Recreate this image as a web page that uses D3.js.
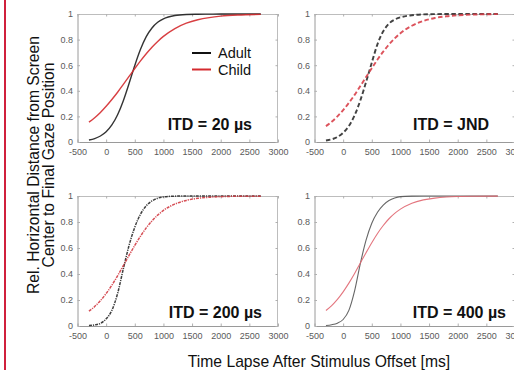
<!DOCTYPE html>
<html><head><meta charset="utf-8">
<script src="https://cdn.jsdelivr.net/npm/d3@7"></script>
<style>body{margin:0;background:#fff} svg{display:block;font-family:"Liberation Sans",Arial,sans-serif}</style>
</head><body>
<svg id="c" width="514" height="370"></svg>
<script>
// ---- data ----
const timeMs = [-300,-200,-100,0,100,200,300,400,500,600,700,800,900,1000,1200,1400,1600,1800,2000,2300,2700];
const adult20  = [0.016,0.027,0.047,0.080,0.133,0.213,0.323,0.457,0.598,0.724,0.823,0.891,0.935,0.962,0.988,0.996,0.998,0.999,1.0,1.0,1.0];
const child20  = [0.155,0.190,0.231,0.279,0.332,0.389,0.450,0.512,0.574,0.634,0.690,0.741,0.786,0.825,0.886,0.928,0.955,0.972,0.983,0.992,0.997];
const adultJND = [0.012,0.021,0.039,0.072,0.125,0.208,0.325,0.468,0.620,0.765,0.865,0.925,0.956,0.974,0.990,0.997,0.999,1.0,1.0,1.0,1.0];
const childJND = [0.124,0.158,0.200,0.249,0.306,0.368,0.437,0.507,0.577,0.644,0.706,0.762,0.809,0.850,0.908,0.946,0.969,0.982,0.990,0.996,0.999];
const adult200 = [0.003,0.008,0.020,0.055,0.120,0.250,0.440,0.620,0.760,0.860,0.925,0.962,0.983,0.993,0.999,1.0,1.0,1.0,1.0,1.0,1.0];
const child200 = [0.114,0.150,0.195,0.250,0.314,0.386,0.464,0.543,0.620,0.691,0.755,0.808,0.853,0.889,0.938,0.966,0.982,0.990,0.995,0.998,0.999];
const adult400 = [0.004,0.010,0.022,0.050,0.120,0.270,0.480,0.660,0.790,0.875,0.930,0.965,0.985,0.995,0.999,1.0,1.0,1.0,1.0,1.0,1.0];
const child400 = [0.119,0.157,0.205,0.263,0.330,0.404,0.484,0.564,0.641,0.712,0.773,0.825,0.866,0.899,0.945,0.970,0.984,0.992,0.996,0.998,0.999];
const xTicks = [-500,0,500,1000,1500,2000,2500,3000];
const yTicks = [0,0.2,0.4,0.6,0.8,1];
const panelLabels = ["ITD = 20 µs","ITD = JND","ITD = 200 µs","ITD = 400 µs"];
const seriesNames = ["Adult","Child"];
const xTitle = "Time Lapse After Stimulus Offset [ms]";
const yTitle = ["Rel. Horizontal Distance from Screen","Center to Final Gaze Position"];

// ---- layout / style ----
const svg = d3.select("#c");
svg.append("rect").attr("x",4).attr("y",0).attr("width",2).attr("height",370).attr("fill","#d0203c");

const panels = [
  {adult:adult20, child:child20, left:77.5, right:278, top:14, bottom:142, dash:null, w:1.4, ac:"#1e1e1e", cc:"#d42a2e", label:panelLabels[0], lx:252, ly:130},
  {adult:adultJND, child:childJND, left:314.5, right:515, top:14, bottom:142, dash:"4.5,2.5", w:1.9, ac:"#2e2e2e", cc:"#d8404a", label:panelLabels[1], lx:489, ly:130},
  {adult:adult200, child:child200, left:77.5, right:278, top:196, bottom:326, dash:"3,1,1.2,1", w:1.5, ac:"#2a2a2a", cc:"#d23c44", label:panelLabels[2], lx:262, ly:318},
  {adult:adult400, child:child400, left:314.5, right:515, top:196, bottom:326, dash:null, w:1.1, ac:"#555", cc:"#e06670", label:panelLabels[3], lx:506, ly:318}
];

panels.forEach(p => {
  const x = d3.scaleLinear().domain([-500,3000]).range([p.left,p.right]);
  const y = d3.scaleLinear().domain([0,1]).range([p.bottom,p.top]);
  const g = svg.append("g");
  g.append("line").attr("x1",p.left).attr("x2",p.right).attr("y1",p.top+0.5).attr("y2",p.top+0.5).attr("stroke","#bdbdbd");
  g.append("line").attr("x1",p.right-0.5).attr("x2",p.right-0.5).attr("y1",p.top).attr("y2",p.bottom).attr("stroke","#bdbdbd");
  const fmt = d => String(d);
  g.append("g").attr("transform",`translate(0,${p.bottom})`)
    .call(d3.axisBottom(x).tickValues(xTicks).tickFormat(fmt).tickSize(-2.5).tickSizeOuter(0).tickPadding(6.8));
  g.append("g").attr("transform",`translate(${p.left},0)`)
    .call(d3.axisLeft(y).tickValues(yTicks).tickFormat(fmt).tickSize(-2.5).tickSizeOuter(0).tickPadding(4.5));
  g.append("g").attr("transform",`translate(0,${p.top})`)
    .call(d3.axisTop(x).tickValues(xTicks).tickFormat("").tickSize(-2.5).tickSizeOuter(0))
    .select(".domain").remove();
  g.append("g").attr("transform",`translate(${p.right},0)`)
    .call(d3.axisRight(y).tickValues(yTicks).tickFormat("").tickSize(-2.5).tickSizeOuter(0))
    .select(".domain").remove();
  g.selectAll(".domain").attr("stroke","#9a9a9a");
  g.selectAll(".tick line").attr("stroke","#b0b0b0");
  g.selectAll(".tick text").attr("fill","#5a5a5a").attr("font-size","9px").attr("font-family","Liberation Sans, Arial, sans-serif");

  const line = d3.line().x((d,i)=>x(timeMs[i])).y(d=>y(d)).curve(d3.curveMonotoneX);
  [[p.adult,p.ac],[p.child,p.cc]].forEach(([vals,col]) => {
    g.append("path").datum(vals).attr("d",line).attr("fill","none")
      .attr("stroke",col).attr("stroke-width",p.w).attr("stroke-opacity",0.9)
      .attr("stroke-dasharray",p.dash);
  });
  g.append("text").attr("x",p.lx).attr("y",p.ly).attr("text-anchor","end")
    .attr("font-weight","bold").attr("font-size","16px").attr("fill","#111").text(p.label);
});

// legend (top-left panel)
const legend = svg.append("g");
[["#111",53],["#d42a2e",69.5]].forEach(([c,yy],i) => {
  legend.append("line").attr("x1",192).attr("x2",211).attr("y1",yy).attr("y2",yy).attr("stroke",c).attr("stroke-width",2);
  legend.append("text").attr("x",218).attr("y",yy+5.2).attr("font-size","14.5px").attr("fill","#111").text(seriesNames[i]);
});

// axis titles
svg.append("text").attr("x",319).attr("y",367).attr("text-anchor","middle").attr("font-size","15.7px").attr("fill","#111").text(xTitle);
yTitle.forEach((t,i) => {
  svg.append("text").attr("transform",`translate(${39+15*i},165) rotate(-90)`).attr("text-anchor","middle")
    .attr("font-size","15.7px").attr("fill","#111").text(t);
});
</script>
</body></html>
